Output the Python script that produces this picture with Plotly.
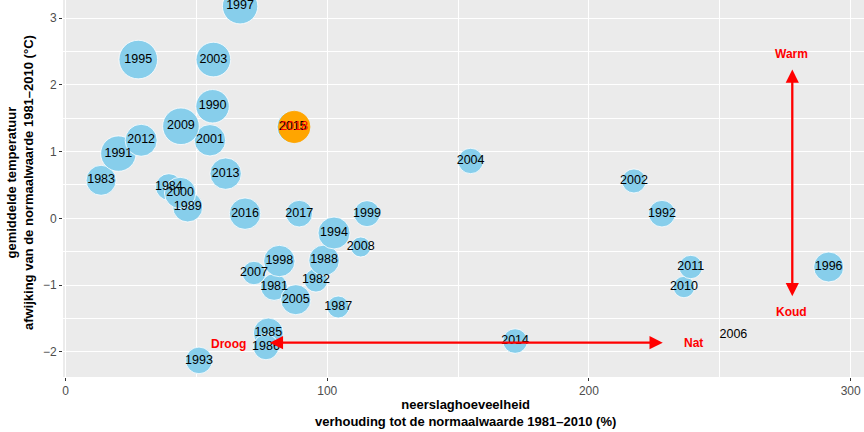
import plotly.graph_objects as go

# ---- data ----
years = [1981, 1982, 1983, 1984, 1985, 1986, 1987, 1988, 1989, 1990,
         1991, 1992, 1993, 1994, 1995, 1996, 1997, 1998, 1999, 2000,
         2001, 2002, 2003, 2004, 2005, 2006, 2007, 2008, 2009, 2010,
         2011, 2012, 2013, 2014, 2015, 2016, 2017, 2018]
precip_pct = [79.7, 95.7, 13.6, 39.5, 77.5, 76.6, 104.2, 98.8, 46.7, 56.2,
              20.2, 227.9, 51.0, 102.6, 27.8, 291.6, 66.7, 81.7, 115.2, 43.8,
              55.2, 217.2, 56.5, 154.8, 88.0, 255.2, 72.0, 112.8, 44.1, 236.3,
              238.9, 28.9, 61.2, 171.8, 86.8, 68.6, 89.3, 87.4]
temp_anom = [-1.03, -0.93, 0.57, 0.47, -1.72, -1.93, -1.33, -0.63, 0.17, 1.68,
             0.97, 0.07, -2.13, -0.22, 2.38, -0.73, 3.18, -0.64, 0.07, 0.38,
             1.17, 0.56, 2.38, 0.86, -1.22, -1.74, -0.82, -0.43, 1.38, -1.03,
             -0.73, 1.17, 0.67, -1.84, 1.37, 0.07, 0.07, 1.37]
# third variable shown as bubble size (relative units), None = missing
bubble = [13.3, 11.7, 15.0, 13.3, 15.0, 12.7, 11.0, 15.3, 15.0, 16.7,
          17.7, 13.3, 13.3, 16.0, 19.3, 15.0, 17.7, 15.7, 13.0, 15.7,
          15.7, 12.0, 17.3, 12.7, 15.0, None, 11.7, 10.0, 18.3, 10.7,
          11.7, 16.0, 15.7, 12.3, 15.7, 15.7, 13.3, 15.7]
highlight_year = 2018

x_ticks = [0, 100, 200, 300]
y_ticks = [-2, -1, 0, 1, 2, 3]

# guide arrows (data units)
h_arrow = dict(x0=77.5, x1=228.2, y=-1.865)
v_arrow = dict(x=277.7, y0=-1.19, y1=2.23)
guide_labels = [("Droog", 62.2, -1.88), ("Nat", 239.9, -1.87),
                ("Warm", 277.5, 2.46), ("Koud", 277.5, -1.41)]

SKY = "#87CEEB"
ORANGE = "#FFA500"
RED = "#FF0000"
FONT = "Liberation Sans, Arial, sans-serif"

fig = go.Figure()

# bubbles (normal years first, highlighted year on top)
norm = [i for i, y in enumerate(years) if y != highlight_year and bubble[i] is not None]
hi = [i for i, y in enumerate(years) if y == highlight_year]

fig.add_trace(go.Scatter(
    x=[precip_pct[i] for i in norm], y=[temp_anom[i] for i in norm],
    mode="markers",
    marker=dict(size=[2 * bubble[i] for i in norm], color=SKY,
                line=dict(color="white", width=0.8), opacity=1),
    showlegend=False, hoverinfo="skip"))
fig.add_trace(go.Scatter(
    x=[precip_pct[i] for i in hi], y=[temp_anom[i] for i in hi],
    mode="markers",
    marker=dict(size=[2 * bubble[i] for i in hi], color=ORANGE,
                line=dict(color=ORANGE, width=0.8), opacity=1),
    showlegend=False, hoverinfo="skip"))

# year labels
lab = [i for i, y in enumerate(years) if y != highlight_year]
fig.add_trace(go.Scatter(
    x=[precip_pct[i] for i in lab], y=[temp_anom[i] for i in lab],
    mode="text", text=[str(years[i]) for i in lab],
    textposition="middle center",
    textfont=dict(family=FONT, size=12.5, color="black"),
    showlegend=False, hoverinfo="skip", cliponaxis=True))
fig.add_trace(go.Scatter(
    x=[precip_pct[i] for i in hi], y=[temp_anom[i] for i in hi],
    mode="text", text=[str(years[i]) for i in hi],
    textposition="middle center",
    textfont=dict(family=FONT, size=12.5, color=RED),
    showlegend=False, hoverinfo="skip"))

annotations = []
# double-headed arrows
annotations.append(dict(x=h_arrow["x1"], y=h_arrow["y"], ax=h_arrow["x0"], ay=h_arrow["y"],
                        xref="x", yref="y", axref="x", ayref="y", text="",
                        showarrow=True, arrowhead=2, startarrowhead=2,
                        arrowside="end+start", arrowsize=1.15, startarrowsize=1.15,
                        arrowwidth=2.3, arrowcolor=RED, standoff=0, startstandoff=0))
annotations.append(dict(x=v_arrow["x"], y=v_arrow["y1"], ax=v_arrow["x"], ay=v_arrow["y0"],
                        xref="x", yref="y", axref="x", ayref="y", text="",
                        showarrow=True, arrowhead=2, startarrowhead=2,
                        arrowside="end+start", arrowsize=1.15, startarrowsize=1.15,
                        arrowwidth=2.3, arrowcolor=RED, standoff=0, startstandoff=0))
for t, lx, ly in guide_labels:
    annotations.append(dict(x=lx, y=ly, xref="x", yref="y", text="<b>%s</b>" % t,
                            showarrow=False, font=dict(family=FONT, size=12, color=RED),
                            xanchor="center", yanchor="middle"))

# axis titles
annotations.append(dict(x=0.502, y=-0.0968, xref="paper", yref="paper",
                        text="<b>neerslaghoeveelheid<br>verhouding tot de normaalwaarde 1981\u20132010 (%)</b>",
                        showarrow=False, font=dict(family=FONT, size=13, color="black"),
                        xanchor="center", yanchor="middle", align="center"))
annotations.append(dict(x=-0.0537, y=0.517, xref="paper", yref="paper",
                        text="<b>gemiddelde temperatuur<br>afwijking van de normaalwaarde 1981\u20132010 (\u00b0C)</b>",
                        showarrow=False, textangle=-90,
                        font=dict(family=FONT, size=13, color="black"),
                        xanchor="center", yanchor="middle", align="center"))

fig.update_layout(
    width=864, height=432,
    margin=dict(l=63, r=0, t=0, b=55, autoexpand=False),
    paper_bgcolor="white", plot_bgcolor="#EBEBEB",
    font=dict(family=FONT, size=12, color="#4D4D4D"),
    annotations=annotations,
    xaxis=dict(range=[-0.96, 305.1], tickvals=x_ticks, showgrid=True,
               gridcolor="white", gridwidth=1.1, zeroline=False,
               ticks="outside", ticklen=3, tickcolor="#333333", tickwidth=1,
               tickfont=dict(family=FONT, size=12, color="#4D4D4D"),
               minor=dict(tickvals=[50, 150, 250], showgrid=True,
                          gridcolor="white", gridwidth=0.5, ticks=""),
               showline=False, fixedrange=True),
    yaxis=dict(range=[-2.379, 3.273], tickvals=y_ticks, showgrid=True,
               gridcolor="white", gridwidth=1.1, zeroline=False,
               ticks="outside", ticklen=3, tickcolor="#333333", tickwidth=1,
               tickfont=dict(family=FONT, size=12, color="#4D4D4D"),
               minor=dict(tickvals=[-1.5, -0.5, 0.5, 1.5, 2.5], showgrid=True,
                          gridcolor="white", gridwidth=0.5, ticks=""),
               showline=False, fixedrange=True),
)

fig.write_html("out.html", config={"displayModeBar": False},
               post_script="document.body.style.margin='0px';document.body.style.padding='0px';")
